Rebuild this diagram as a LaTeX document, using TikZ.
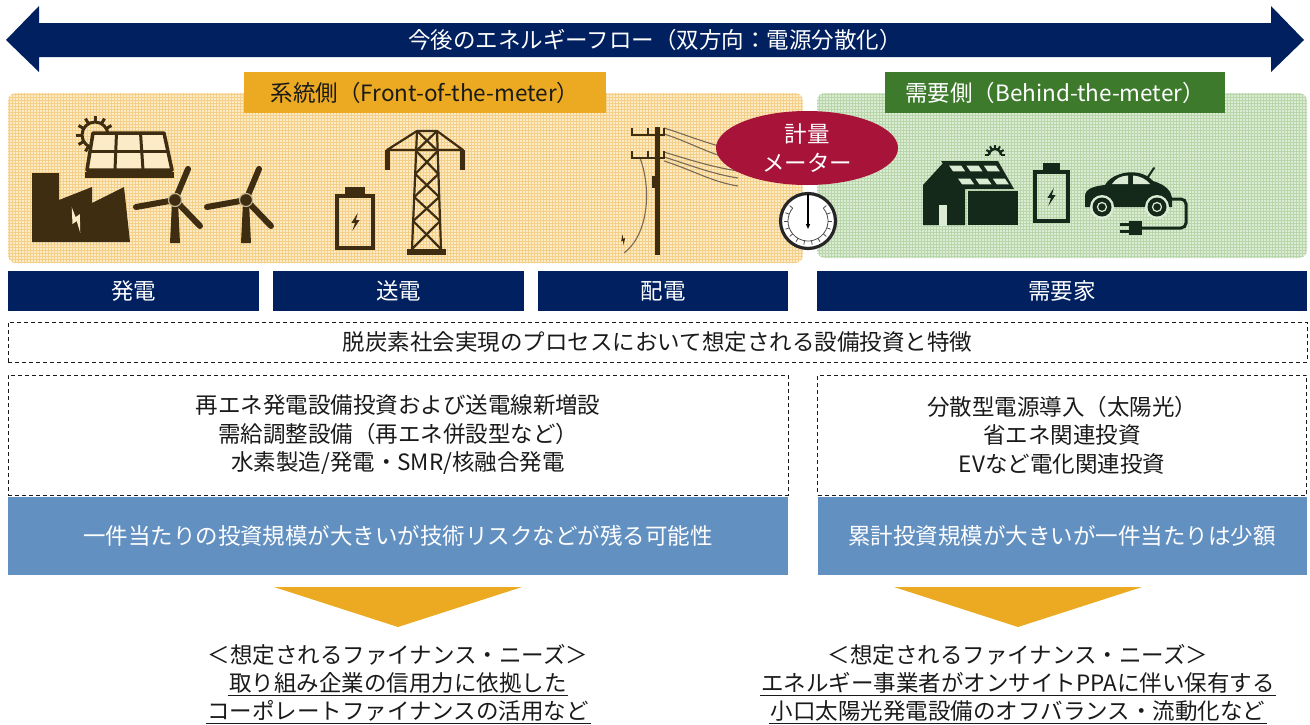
\documentclass[tikz,border=0pt]{standalone}
\usepackage{fontspec}
\setmainfont{Noto Sans CJK JP}
\usetikzlibrary{shapes.geometric,patterns,arrows.meta}

\definecolor{navy}{HTML}{002060}
\definecolor{steel}{HTML}{6290C1}
\definecolor{gold}{HTML}{EBAA21}
\definecolor{leaf}{HTML}{3D7A2C}
\definecolor{wine}{HTML}{A8133A}
\definecolor{sand}{HTML}{FCEBC6}
\definecolor{sanddot}{HTML}{F4CF88}
\definecolor{mint}{HTML}{DCEBD4}
\definecolor{mintdot}{HTML}{B9D6AA}
\definecolor{umber}{HTML}{3E2D10}
\definecolor{pine}{HTML}{15291A}
\definecolor{ink}{HTML}{1A1A1A}
\definecolor{wirecol}{HTML}{7A6A55}

% small lightning mark
\tikzset{pics/bolt/.style={code={
	\fill (3,-10) -- (-4,1) -- (0,1) -- (-3,10) -- (5,-2) -- (1,-2) -- cycle;
}}}

\begin{document}
\begin{tikzpicture}[x=1pt,y=-1pt]
% text size used for every label
\def\fs{\fontsize{22.5}{28.5}\selectfont}
% node style definition
\tikzstyle{band} = [fill=navy, text=white, font=\fs, inner sep=0pt,
	minimum height=40pt]
\tikzstyle{dashbox} = [draw=ink, dash pattern=on 4pt off 3pt, line width=1pt,
	text=ink, font=\fs, align=center, inner sep=0pt]
\tikzstyle{blueband} = [fill=steel, text=white, font=\fs, inner sep=0pt,
	minimum height=78pt]
\tikzstyle{tag} = [font=\fs, inner sep=0pt, minimum height=41pt]
\tikzstyle{plain} = [text=ink, font=\fs, inner sep=1.5pt]
\tikzstyle{wire} = [wirecol, line width=1.1pt]

\useasboundingbox (0,0) rectangle (1310,724);

% energy flow arrow
\fill[navy] (6,40) -- (39,6) -- (39,23) -- (1271,23) -- (1271,6) -- (1304,40)
	-- (1271,72) -- (1271,57) -- (39,57) -- (39,72) -- cycle;
\node[text=white, font=\fs] (flow) at (655,40)
	{今後のエネルギーフロー（双方向：電源分散化）};

% two backgrounds
\fill[sand, rounded corners=8pt] (8,93) rectangle (803,263);
\fill[pattern=grid, pattern color=sanddot, rounded corners=8pt] (8,93) rectangle (803,263);
\fill[mint, rounded corners=8pt] (817,93) rectangle (1307,258);
\fill[pattern=grid, pattern color=mintdot, rounded corners=8pt] (817,93) rectangle (1307,258);

\node[tag, fill=gold, text=ink, minimum width=362pt] (supply) at (425,92.5)
	{系統側（Front-of-the-meter）};
\node[tag, fill=leaf, text=white, minimum width=340pt] (demand) at (1055,92.5)
	{需要側（Behind-the-meter）};

%% --- generation ---
% sun
\begin{scope}[umber]
\draw[line width=3pt] (95,135) circle (13);
\foreach \a in {0,30,...,330}
	\draw[line width=3pt] (95,135) ++(\a:13) -- ++(\a:6);
\end{scope}
% solar panel
\fill[sand] (93,133) -- (164,133) -- (172,170) -- (87,170) -- cycle;
\draw[umber, line width=3.5pt, line join=round] (93,133) -- (164,133) -- (172,170) -- (87,170) -- cycle;
\draw[umber, line width=3pt] (90,151.5) -- (168,151.5);
\draw[umber, line width=3pt] (116.5,133) -- (115,170);
\draw[umber, line width=3pt] (140.5,133) -- (143,170);
\fill[umber] (85,172) rectangle (174,178);
% factory
\fill[umber] (32,242) -- (32,173) -- (59,173) -- (59,200) -- (92,187) -- (92,203)
	-- (124,187) -- (130,242) -- cycle;
\pic[sand, scale=1.3, rotate=35] at (76,220) {bolt};
% wind turbines
\foreach \hx in {175,246}
{
	\fill[umber] (\hx-3,202) -- (\hx+3,202) -- (\hx+5,243) -- (\hx-5,243) -- cycle;
	\draw[umber, line width=6pt, line cap=round] (\hx,200) -- ++(13,-31);
	\draw[umber, line width=6pt, line cap=round] (\hx,200) -- ++(-39,7);
	\draw[umber, line width=6pt, line cap=round] (\hx,200) -- ++(25,26);
	\fill[umber] (\hx,200) circle (6.5);
	\draw[sand!70!umber, line width=1.2pt] (\hx,200) circle (6.5);
}

%% --- storage and transmission ---
\draw[umber, line width=4pt] (337,196) rectangle (373,248);
\fill[umber] (345,187) rectangle (365,196);
\pic[umber, scale=0.9] at (355,222) {bolt};

\begin{scope}[umber, line width=2.2pt, line join=round]
\draw (387,150) -- (417,131) -- (437,131) -- (463,150) -- cycle;
\draw (417,131) -- (412,249);
\draw (437,131) -- (441,249);
\foreach \ya/\yb in {131/151, 151/174, 174/197, 197/221, 221/249}
{
	\draw ({417-5*(\ya-131)/118},\ya) -- ({437+4*(\yb-131)/118},\yb);
	\draw ({437+4*(\ya-131)/118},\ya) -- ({417-5*(\yb-131)/118},\yb);
}
\fill (385,150) rectangle (390,170);
\fill (460,150) rectangle (465,170);
\fill (407,249) rectangle (446,255);
\end{scope}

%% --- distribution ---
\foreach \ya/\yb in {128/150, 134/160, 152/171, 157/178, 161/186}
	\draw[wire] (664,\ya) .. controls (690,\ya+8) and (712,\yb-4) .. (738,\yb);
\draw[wire] (640,158) .. controls (652,190) and (648,235) .. (624,253);
\pic[umber, scale=0.55, rotate=20] at (623,240) {bolt};
\fill[umber] (655,127) rectangle (660,255);
\fill[umber] (652,176) rectangle (658,188);
\foreach \y in {135,158}
{
	\draw[umber, line width=2pt] (632,\y-7) -- (632,\y) -- (665,\y);
	\draw[umber, line width=2pt] (648,\y-7) -- (648,\y);
	\draw[umber, line width=2pt] (664,\y-7) -- (664,\y);
}

% meter
\node[ellipse, fill=wine, text=white, font=\fs, align=center, inner sep=0pt,
	minimum width=182pt, minimum height=74pt] (meter) at (807,148) {計量\\メーター};
\fill[white] (808,221) circle (29);
\draw[black!85, line width=3.2pt] (808,221) circle (27.5);
\draw[black!70, line width=0.8pt] (808,221) ++(-40:20) arc[start angle=-40, end angle=220, radius=20];
\foreach \a in {-40,-20,...,220}
	\draw[black!70, line width=0.8pt] (808,221) ++(\a:20) -- ++(\a:4);
\draw[black, line width=1.2pt, -{Triangle[length=5pt,width=4pt]}] (808,194) -- (808,229);

%% --- consumer ---
% house with rooftop solar
\begin{scope}[pine]
\draw[line width=2.5pt] (1001,155) arc[start angle=0, end angle=-180, radius=6];
\foreach \a in {-180,-150,...,0}
	\draw[line width=2pt] (995,155) ++(\a:6) -- ++(\a:4);
\fill (923,225) -- (923,185) -- (944,162) -- (965,185) -- (965,225) -- cycle;
\fill[mint] (939,205) rectangle (947,226);
\fill (968,191) rectangle (1018,225);
\fill (941,161) -- (998,161) -- (1014,189) -- (963,189) -- cycle;
\foreach \i in {0,1,2}
	\foreach \j in {0,1}
	{
		\pgfmathsetmacro{\ua}{\i/3+0.05}
		\pgfmathsetmacro{\ub}{(\i+1)/3-0.05}
		\pgfmathsetmacro{\va}{\j/2+0.14}
		\pgfmathsetmacro{\vb}{(\j+1)/2-0.14}
		\fill[mint] ({944+52*\ua+18*\va},{162+26*\va}) -- ({944+52*\ub+18*\va},{162+26*\va})
			-- ({944+52*\ub+18*\vb},{162+26*\vb}) -- ({944+52*\ua+18*\vb},{162+26*\vb}) -- cycle;
	}
\end{scope}
% battery
\draw[pine, line width=4pt] (1035,172) rectangle (1068,221);
\fill[pine] (1043,163) rectangle (1060,172);
\pic[pine, scale=0.9] at (1051,197) {bolt};
% electric car
\begin{scope}[pine]
\fill (1085,207) -- (1085,196) .. controls (1085,189) and (1094,186) .. (1105,185)
	.. controls (1113,171) and (1141,167) .. (1153,181) .. controls (1166,185) and (1172,191) .. (1172,200)
	-- (1172,207) -- cycle;
\draw[line width=2pt, line cap=round] (1148,177) -- (1154,168);
\fill[mint] (1112,184) .. controls (1116,178) and (1121,176) .. (1128,175.5) -- (1128,184) -- cycle;
\fill[mint] (1133,175.5) .. controls (1140,176) and (1146,179) .. (1150,184) -- (1133,184) -- cycle;
\foreach \wx in {1102,1157}
{
	\fill[mint] (\wx,207) circle (12);
	\fill (\wx,207) circle (9.5);
	\draw[mint, line width=1.2pt] (\wx,207) circle (4.5);
}
\draw[line width=3pt, rounded corners=5pt] (1170,199) -- (1186,199) -- (1186,228) -- (1140,228);
\fill (1129,221) rectangle (1142,235);
\fill (1120,223) rectangle (1129,226);
\fill (1120,230) rectangle (1129,233);
\end{scope}

%% --- value chain bands ---
\node[band, minimum width=251pt] (gen) at (133.5,291) {発電};
\node[band, minimum width=251pt] (trans) at (398.5,291) {送電};
\node[band, minimum width=250pt] (dist) at (663,291) {配電};
\node[band, minimum width=490pt] (user) at (1062,291) {需要家};

\node[dashbox, minimum width=1299pt, minimum height=40pt] (theme) at (657.5,342)
	{脱炭素社会実現のプロセスにおいて想定される設備投資と特徴};
\node[dashbox, minimum width=780pt, minimum height=120pt] (invL) at (398,435)
	{再エネ発電設備投資および送電線新増設\\需給調整設備（再エネ併設型など）\\水素製造/発電・SMR/核融合発電};
\node[dashbox, minimum width=489pt, minimum height=120pt] (invR) at (1062,435)
	{分散型電源導入（太陽光）\\省エネ関連投資\\EVなど電化関連投資};

\node[blueband, minimum width=780pt] (riskL) at (398,536)
	{一件当たりの投資規模が大きいが技術リスクなどが残る可能性};
\node[blueband, minimum width=489pt] (riskR) at (1062,536)
	{累計投資規模が大きいが一件当たりは少額};

% down markers
\fill[gold] (274,587) -- (522,587) -- (398,627) -- cycle;
\fill[gold] (894,587) -- (1142,587) -- (1018,627) -- cycle;

% finance needs
\node[plain] (needL) at (398,655) {＜想定されるファイナンス・ニーズ＞};
\node[plain] (needL1) at (398,683) {取り組み企業の信用力に依拠した};
\node[plain] (needL2) at (398,711) {コーポレートファイナンスの活用など};
\node[plain] (needR) at (1018,655) {＜想定されるファイナンス・ニーズ＞};
\node[plain] (needR1) at (1018,683) {エネルギー事業者がオンサイトPPAに伴い保有する};
\node[plain] (needR2) at (1018,711) {小口太陽光発電設備のオフバランス・流動化など};
\foreach \n in {needL1,needL2,needR1,needR2}
	\draw[ink, line width=1.2pt] (\n.south west) -- (\n.south east);
\end{tikzpicture}
\end{document}
